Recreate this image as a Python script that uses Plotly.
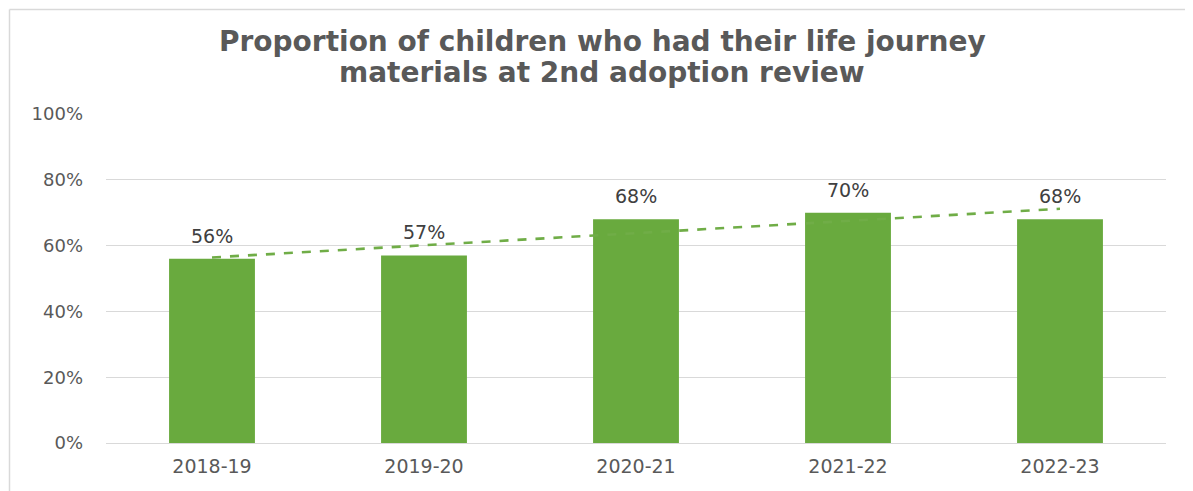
import numpy as np
import plotly.graph_objects as go

categories = ["2018-19", "2019-20", "2020-21", "2021-22", "2022-23"]
values = [56, 57, 68, 70, 68]
y_ticks = [0, 20, 40, 60, 80, 100]
y_tick_labels = ["0%", "20%", "40%", "60%", "80%", "100%"]
title_lines = ["Proportion of children who had their life journey",
               "materials at 2nd adoption review"]

idx = np.arange(len(values))
slope, intercept = np.polyfit(idx, values, 1)
trend = slope * idx + intercept

fig = go.Figure()
fig.add_trace(go.Bar(
    x=categories, y=values, width=0.405,
    marker=dict(color="#69aa3e", line=dict(width=0)),
    hoverinfo="skip", showlegend=False,
))
fig.add_trace(go.Scatter(
    x=categories, y=trend, mode="lines",
    line=dict(color="#70ad47", width=2.6, dash="dash"),
    hoverinfo="skip", showlegend=False,
))
for c, v in zip(categories, values):
    fig.add_annotation(x=c, y=v, text=f"{v}%", showarrow=False, yshift=23,
                       font=dict(family="DejaVu Sans", size=19, color="#404040"))

# title as two lines with tight spacing
for line, ypix in zip(title_lines, [42, 72]):
    fig.add_annotation(xref="paper", yref="paper", x=(602 - 106) / 1060,
                       y=(443 - ypix) / 329, xanchor="center", yanchor="middle",
                       text=f"<b>{line}</b>", showarrow=False,
                       font=dict(family="DejaVu Sans", size=28, color="#595959"))

# chart border (left and top edges visible)
fig.add_shape(type="line", xref="paper", yref="paper",
              x0=(9.5 - 106) / 1060, x1=(9.5 - 106) / 1060,
              y0=(443 - 9.5) / 329, y1=(443 - 500) / 329,
              line=dict(color="#d9d9d9", width=1.5))
fig.add_shape(type="line", xref="paper", yref="paper",
              x0=(9.5 - 106) / 1060, x1=(1200 - 106) / 1060,
              y0=(443 - 9.5) / 329, y1=(443 - 9.5) / 329,
              line=dict(color="#d9d9d9", width=1.5))

fig.update_layout(
    width=1193, height=491,
    margin=dict(l=98, r=35, t=106, b=56),
    paper_bgcolor="white", plot_bgcolor="white",
    xaxis=dict(showgrid=False, showline=False, ticks="", ticklabelstandoff=10,
               tickfont=dict(family="DejaVu Sans", size=19, color="#595959")),
    yaxis=dict(range=[0, 100], tickvals=y_ticks, ticktext=y_tick_labels,
               showgrid=True, gridcolor="#d9d9d9", gridwidth=1.3,
               zeroline=True, zerolinecolor="#d9d9d9", zerolinewidth=1.3,
               ticks="", ticklen=0, ticklabelstandoff=22,
               tickfont=dict(family="DejaVu Sans", size=18, color="#595959")),
    bargap=0.6,
)
fig.write_html("out.html")
